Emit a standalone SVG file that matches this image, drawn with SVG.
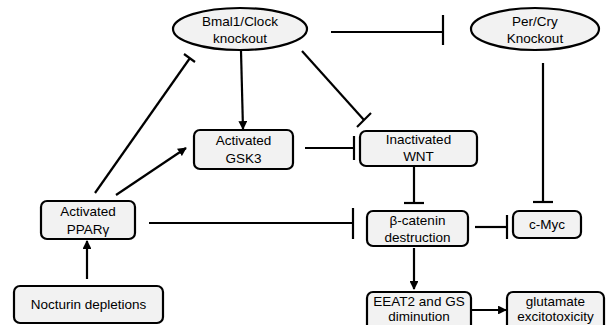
<svg xmlns="http://www.w3.org/2000/svg" width="608" height="325" viewBox="0 0 608 325">
<style>
.n{fill:#f2f2f2;stroke:#000;stroke-width:2.2}
.t{font-family:"Liberation Sans",Arial,sans-serif;font-size:13.5px;fill:#000;text-anchor:middle}
.c{stroke:#000;stroke-width:2.2;fill:none}
.a{stroke:#000;stroke-width:2.2;fill:none;marker-end:url(#ah)}
</style>
<defs>
<marker id="ah" viewBox="0 0 10 10" refX="9" refY="5" markerWidth="4" markerHeight="4" orient="auto" markerUnits="strokeWidth">
<path d="M0,0 L10,5 L0,10 z" fill="#000"/>
</marker>
</defs>
<rect width="608" height="325" fill="#fff"/>
<g id="connectors">
<!-- Bmal1 -| Per/Cry -->
<line class="c" x1="331" y1="32" x2="443" y2="32"/>
<line class="c" x1="443" y1="15" x2="443" y2="45"/>
<!-- Bmal1 -> GSK3 -->
<line class="a" x1="241" y1="51" x2="243" y2="129"/>
<!-- Bmal1 -| WNT -->
<line class="c" x1="302" y1="51" x2="364" y2="120"/>
<line class="c" x1="357" y1="127" x2="371" y2="113"/>
<!-- PPARg -| Bmal1 -->
<line class="c" x1="95" y1="193" x2="190" y2="58"/>
<line class="c" x1="184" y1="54" x2="195" y2="62"/>
<!-- PPARg -> GSK3 -->
<line class="a" x1="116" y1="195" x2="186" y2="148"/>
<!-- Nocturin -> PPARg -->
<line class="a" x1="87" y1="279" x2="87" y2="241"/>
<!-- GSK3 -| WNT -->
<line class="c" x1="305" y1="148" x2="354" y2="148"/>
<line class="c" x1="354" y1="136" x2="354" y2="160"/>
<!-- PPARg -| beta-catenin -->
<line class="c" x1="149" y1="223" x2="353" y2="223"/>
<line class="c" x1="353" y1="208" x2="353" y2="239"/>
<!-- WNT -| beta-catenin -->
<line class="c" x1="414" y1="167" x2="414" y2="203"/>
<line class="c" x1="404" y1="203" x2="424" y2="203"/>
<!-- Per/Cry -| c-Myc -->
<line class="c" x1="543" y1="63" x2="543" y2="202"/>
<line class="c" x1="533" y1="202" x2="553" y2="202"/>
<!-- beta-catenin -| c-Myc -->
<line class="c" x1="475" y1="227" x2="507" y2="227"/>
<line class="c" x1="507" y1="215" x2="507" y2="239"/>
<!-- beta-catenin -> EEAT2 -->
<line class="a" x1="414" y1="248" x2="414" y2="289"/>
<!-- EEAT2 -> glutamate -->
<line class="a" x1="472" y1="310" x2="506" y2="310"/>
</g>
<g id="bmal1">
<ellipse class="n" cx="240" cy="29" rx="67" ry="21"/>
<text class="t" x="240" y="26">Bmal1/Clock</text>
<text class="t" x="240" y="43">knockout</text>
</g>
<g id="percry">
<ellipse class="n" cx="535" cy="29" rx="64" ry="21"/>
<text class="t" x="535" y="26">Per/Cry</text>
<text class="t" x="535" y="43">Knockout</text>
</g>
<g id="gsk3">
<rect class="n" x="194" y="130" width="99" height="39" rx="6"/>
<text class="t" x="243.5" y="145">Activated</text>
<text class="t" x="243.5" y="163">GSK3</text>
</g>
<g id="wnt">
<rect class="n" x="360" y="131" width="117" height="35" rx="6"/>
<text class="t" x="418.5" y="144">Inactivated</text>
<text class="t" x="418.5" y="161">WNT</text>
</g>
<g id="pparg">
<rect class="n" x="41" y="201" width="94" height="38" rx="6"/>
<text class="t" x="88" y="216">Activated</text>
<text class="t" x="88" y="234">PPARγ</text>
</g>
<g id="nocturin">
<rect class="n" x="14" y="286" width="149" height="37" rx="6"/>
<text class="t" x="88.5" y="309">Nocturin depletions</text>
</g>
<g id="betacatenin">
<rect class="n" x="367" y="211" width="101" height="35" rx="6"/>
<text class="t" x="417.5" y="225">β-catenin</text>
<text class="t" x="417.5" y="242">destruction</text>
</g>
<g id="cmyc">
<rect class="n" x="513" y="211" width="68" height="27" rx="6"/>
<text class="t" x="547" y="229">c-Myc</text>
</g>
<g id="eeat2">
<rect class="n" x="367" y="292" width="104" height="42" rx="6"/>
<text class="t" x="419" y="306">EEAT2 and GS</text>
<text class="t" x="419" y="321">diminution</text>
</g>
<g id="glutamate">
<rect class="n" x="507" y="292" width="97" height="42" rx="6"/>
<text class="t" x="555.5" y="306">glutamate</text>
<text class="t" x="555.5" y="321">excitotoxicity</text>
</g>
</svg>
